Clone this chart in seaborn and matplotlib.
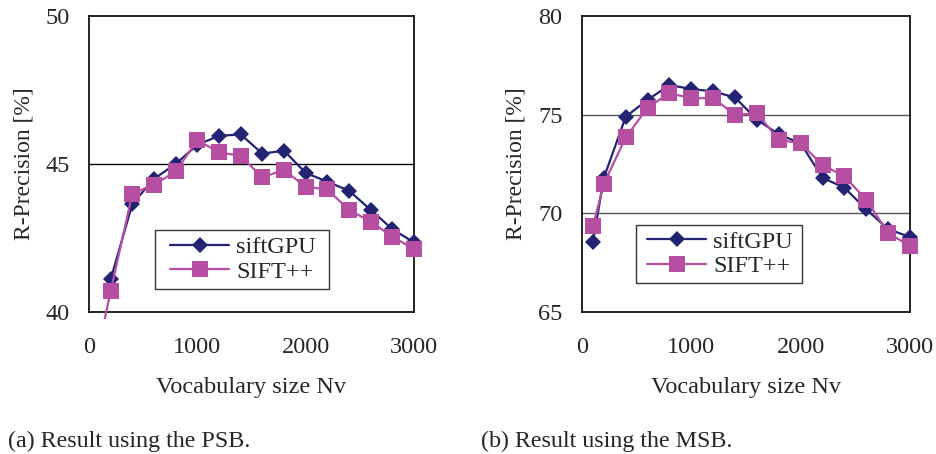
import numpy as np
import pandas as pd
import seaborn as sns
import matplotlib
matplotlib.use("Agg")
import matplotlib.pyplot as plt
from matplotlib.transforms import Bbox, TransformedBbox
from matplotlib.patches import Rectangle

# ---- data ----
vocab_psb_gpu = [200, 400, 600, 800, 1000, 1200, 1400, 1600, 1800, 2000, 2200, 2400, 2600, 2800, 3000]
psb_siftgpu = [41.1, 43.65, 44.5, 45.0, 45.65, 45.95, 46.0, 45.35, 45.45, 44.7, 44.4, 44.1, 43.45, 42.8, 42.35]
vocab_psb_pp = [100, 200, 400, 600, 800, 1000, 1200, 1400, 1600, 1800, 2000, 2200, 2400, 2600, 2800, 3000]
psb_siftpp = [39.0, 40.7, 44.0, 44.3, 44.75, 45.8, 45.4, 45.27, 44.55, 44.8, 44.23, 44.14, 43.45, 43.05, 42.55, 42.12]

vocab_msb = [100, 200, 400, 600, 800, 1000, 1200, 1400, 1600, 1800, 2000, 2200, 2400, 2600, 2800, 3000]
msb_siftgpu = [68.55, 71.8, 74.9, 75.75, 76.5, 76.3, 76.18, 75.87, 74.75, 74.0, 73.55, 71.8, 71.3, 70.2, 69.2, 68.8]
msb_siftpp = [69.35, 71.5, 73.85, 75.35, 76.1, 75.82, 75.85, 74.98, 75.08, 73.72, 73.55, 72.45, 71.88, 70.68, 69.0, 68.35]

series_names = ["siftGPU", "SIFT++"]
x_ticks = [0, 1000, 2000, 3000]
psb_yticks = [40, 45, 50]
msb_yticks = [65, 70, 75, 80]
x_label = "Vocabulary size Nv"
y_label = "R-Precision [%]"
captions = ["(a) Result using the PSB.", "(b) Result using the MSB."]

navy = "#232373"
pink = "#B64FA2"

sns.set_theme(style="white")
plt.rcParams["font.family"] = ["Liberation Serif", "DejaVu Serif"]

W, H = 936, 454
fig = plt.figure(figsize=(W / 100, H / 100), dpi=100)

def rect(l, t, r, b):
    return [l / W, 1 - b / H, (r - l) / W, (b - t) / H]

ax_boxes = [(89, 16, 414, 312), (582, 16, 910, 312)]
ax1 = fig.add_axes(rect(*ax_boxes[0]))
ax2 = fig.add_axes(rect(*ax_boxes[1]))

df_psb = pd.concat([
    pd.DataFrame({"Nv": vocab_psb_gpu, "R": psb_siftgpu, "method": series_names[0]}),
    pd.DataFrame({"Nv": vocab_psb_pp, "R": psb_siftpp, "method": series_names[1]}),
])
df_msb = pd.concat([
    pd.DataFrame({"Nv": vocab_msb, "R": msb_siftgpu, "method": series_names[0]}),
    pd.DataFrame({"Nv": vocab_msb, "R": msb_siftpp, "method": series_names[1]}),
])

palette = {series_names[0]: navy, series_names[1]: pink}
markers = {series_names[0]: "D", series_names[1]: "s"}
sizes_mk = {series_names[0]: 8.5, series_names[1]: 11}

# legend frame boxes in pixel coordinates (left, top, right, bottom)
leg_boxes = [(155, 230, 329, 289), (636, 225, 802, 283)]

for ax, df, yt, grid_color, abox, lbox in [
        (ax1, df_psb, psb_yticks, "black", ax_boxes[0], leg_boxes[0]),
        (ax2, df_msb, msb_yticks, "#555555", ax_boxes[1], leg_boxes[1])]:
    for name in series_names:
        sub = df[df["method"] == name]
        sns.lineplot(data=sub, x="Nv", y="R", ax=ax, color=palette[name], marker=markers[name],
                     markersize=sizes_mk[name], markeredgewidth=0, linewidth=1.6,
                     label=name, estimator=None, sort=False, zorder=3)
    ax.set_xlim(0, 3000)
    ax.set_ylim(yt[0], yt[-1])
    ax.set_xticks(x_ticks)
    ax.set_yticks(yt)
    ax.set_xticklabels([str(v) for v in x_ticks], fontsize=17.5)
    ax.set_yticklabels([str(v) for v in yt], fontsize=17.5)
    ax.tick_params(axis="x", direction="in", length=5, width=1, color="black", pad=18)
    ax.tick_params(axis="y", length=0, pad=14)
    for yv in yt[1:-1]:
        ax.axhline(yv, color=grid_color, linewidth=1.0, zorder=1)
    for s in ax.spines.values():
        s.set_visible(True)
        s.set_color("black")
        s.set_linewidth(1.2)
    ax.set_xlabel(x_label, fontsize=17.5, labelpad=14)
    ax.set_ylabel(y_label, fontsize=17, labelpad=8)
    cb = TransformedBbox(Bbox([[0, -0.025], [1.02, 1.02]]), ax.transAxes)
    for ln in ax.lines:
        ln.set_clip_box(cb)

    l, t, r, b = abox
    aw, ah = r - l, b - t
    ll, lt, lr, lb = lbox
    fx0, fy0 = (ll - l) / aw, 1 - (lb - t) / ah
    fw, fh = (lr - ll) / aw, (lb - lt) / ah
    ax.add_patch(Rectangle((fx0, fy0), fw, fh, transform=ax.transAxes, facecolor="white",
                           edgecolor="#333333", linewidth=1.0, zorder=4))
    leg = ax.legend(loc="center", bbox_to_anchor=(fx0 + fw / 2 + 0.003, fy0 + fh / 2),
                    fontsize=17.5, frameon=False, handlelength=2.4, borderpad=0.0,
                    labelspacing=0.1, handletextpad=0.3, borderaxespad=0)
    leg.set_zorder(5)

fig.text(8 / W, 1 - 447 / H, captions[0], fontsize=17.3, ha="left", va="baseline")
fig.text(481 / W, 1 - 447 / H, captions[1], fontsize=17.3, ha="left", va="baseline")

fig.savefig("out.png", dpi=100)
